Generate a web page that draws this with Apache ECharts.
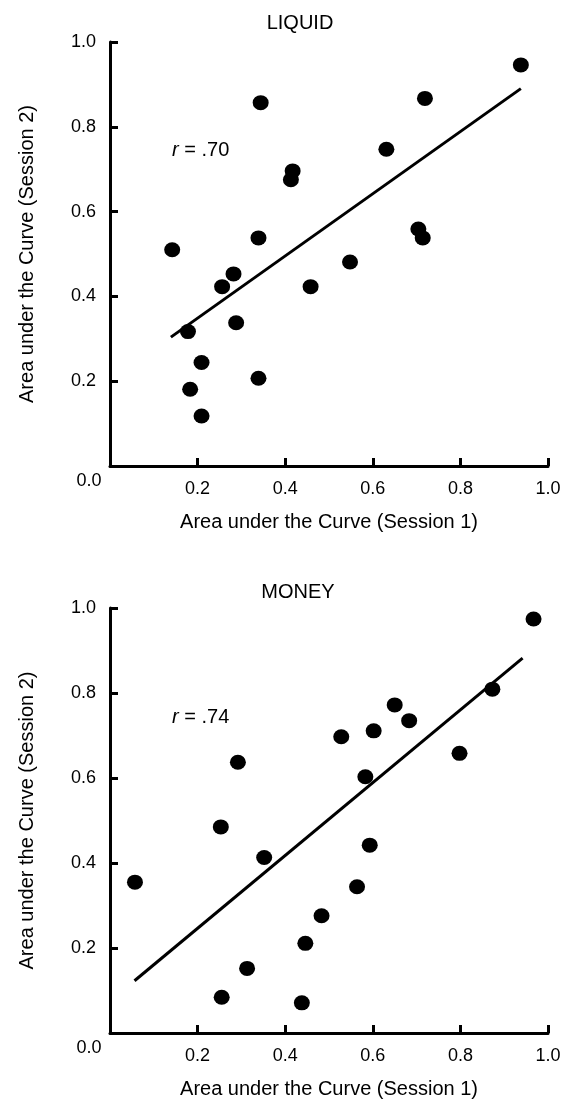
<!DOCTYPE html>
<html>
<head>
<meta charset="utf-8">
<script src="https://cdn.jsdelivr.net/npm/echarts@6/dist/echarts.min.js"></script>
<style>
  html, body { margin: 0; padding: 0; background: #fff; }
  #chart { width: 574px; height: 1104px; }
</style>
</head>
<body>
<div id="chart"></div>
<script>
// LIQUID panel: session 1 vs session 2 AUC
const liquidX = [0.938, 0.344, 0.719, 0.631, 0.417, 0.413, 0.704, 0.714, 0.339, 0.142,
                 0.548, 0.282, 0.256, 0.458, 0.288, 0.178, 0.209, 0.339, 0.183, 0.209];
const liquidY = [0.946, 0.857, 0.867, 0.747, 0.696, 0.675, 0.559, 0.538, 0.538, 0.510,
                 0.481, 0.453, 0.423, 0.423, 0.338, 0.317, 0.244, 0.207, 0.181, 0.118];
const liquidFitX = [0.139, 0.938];
const liquidFitY = [0.304, 0.890];

// MONEY panel
const moneyX = [0.967, 0.873, 0.650, 0.683, 0.602, 0.528, 0.798, 0.292, 0.583, 0.253,
                0.593, 0.352, 0.057, 0.564, 0.483, 0.446, 0.313, 0.255, 0.438];
const moneyY = [0.974, 0.809, 0.772, 0.735, 0.711, 0.697, 0.658, 0.637, 0.603, 0.485,
                0.442, 0.413, 0.355, 0.344, 0.276, 0.211, 0.152, 0.084, 0.071];
const moneyFitX = [0.056, 0.942];
const moneyFitY = [0.123, 0.882];

const panelTitles = ["LIQUID", "MONEY"];
const rLabels = [".70", ".74"];
const xName = "Area under the Curve (Session 1)";
const yName = "Area under the Curve (Session 2)";
const tickValues = [0, 0.2, 0.4, 0.6, 0.8, 1.0];

const FONT = "Liberation Sans, Arial, sans-serif";
const pair = (xs, ys) => xs.map((x, i) => [x, ys[i]]);

const chart = echarts.init(document.getElementById("chart"));

const axisCommon = {
  type: "value",
  min: tickValues[0],
  max: tickValues[tickValues.length - 1],
  interval: 0.2,
  splitLine: { show: false },
  axisLine: { show: true, lineStyle: { color: "#000", width: 3 } },
  axisTick: { show: true, inside: true, length: 8, lineStyle: { color: "#000", width: 3 } },
  axisLabel: {
    color: "#000",
    fontFamily: FONT,
    fontSize: 18,
    margin: 14,
    formatter: (v) => (v === 0 ? "" : v.toFixed(1)),
  },
  nameLocation: "middle",
  nameTextStyle: { color: "#000", fontFamily: FONT, fontSize: 20 },
};

const grids = [
  { left: 110, top: 42, width: 438, height: 424 },
  { left: 110, top: 608, width: 438, height: 425 },
];

const xAxes = grids.map((g, i) => Object.assign({}, axisCommon, {
  gridIndex: i, name: xName, nameGap: 46,
}));
const yAxes = grids.map((g, i) => Object.assign({}, axisCommon, {
  gridIndex: i, name: yName, nameGap: 73, nameRotate: 90,
}));

const dotStyle = (idx, data) => ({
  type: "scatter",
  xAxisIndex: idx,
  yAxisIndex: idx,
  symbol: "circle",
  symbolSize: [16, 15],
  itemStyle: { color: "#000", opacity: 1 },
  emphasis: { disabled: true },
  data: data,
  z: 3,
});
const fitStyle = (idx, data) => ({
  type: "line",
  xAxisIndex: idx,
  yAxisIndex: idx,
  showSymbol: false,
  lineStyle: { color: "#000", width: 3 },
  data: data,
  z: 2,
});

const textEl = (x, y, text, align, extra) => ({
  type: "text",
  x: x,
  y: y,
  style: Object.assign({
    text: text,
    fill: "#000",
    font: "20px " + FONT,
    textAlign: align,
    textVerticalAlign: "middle",
  }, extra || {}),
});

const italicR = { rich: { i: { fontStyle: "italic", fontSize: 20, fontFamily: FONT } } };

chart.setOption({
  animation: false,
  backgroundColor: "#fff",
  grid: grids,
  xAxis: xAxes,
  yAxis: yAxes,
  series: [
    dotStyle(0, pair(liquidX, liquidY)),
    fitStyle(0, pair(liquidFitX, liquidFitY)),
    dotStyle(1, pair(moneyX, moneyY)),
    fitStyle(1, pair(moneyFitX, moneyFitY)),
  ],
  graphic: [
    textEl(300, 23, panelTitles[0], "center"),
    textEl(298, 592, panelTitles[1], "center"),
    textEl(172, 150, "{i|r} = " + rLabels[0], "left", italicR),
    textEl(172, 717, "{i|r} = " + rLabels[1], "left", italicR),
    textEl(89, 481, "0.0", "center", { font: "18px " + FONT }),
    textEl(89, 1048, "0.0", "center", { font: "18px " + FONT }),
  ],
});
</script>
</body>
</html>
